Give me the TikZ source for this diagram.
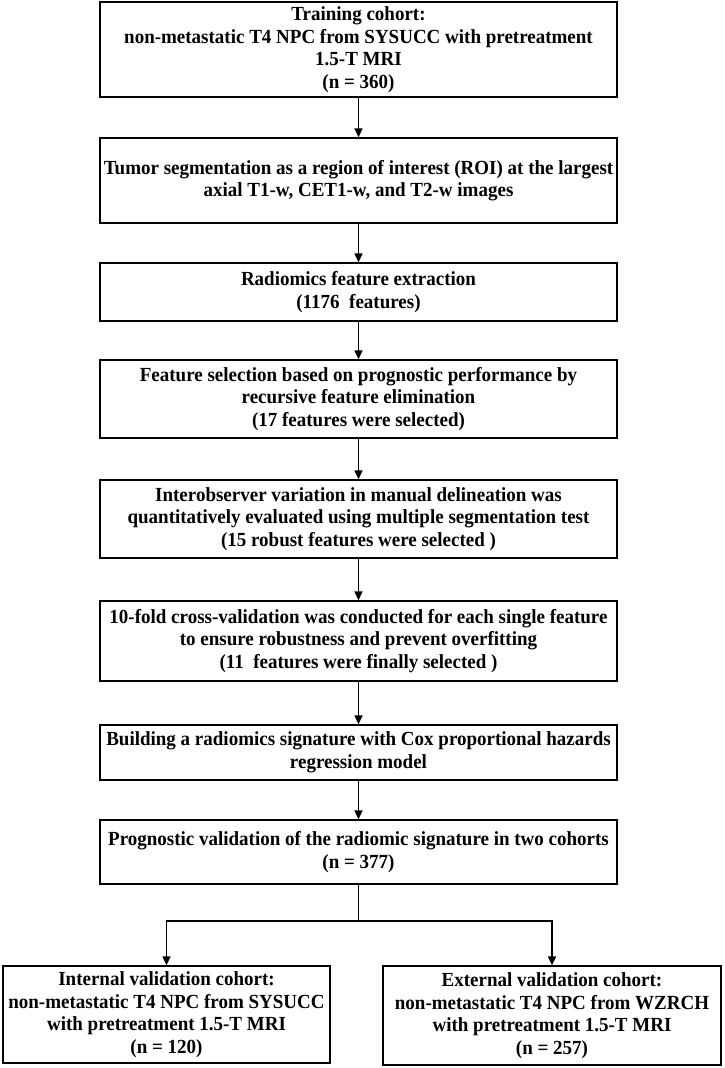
\documentclass[tikz,border=0pt]{standalone}
\usepackage{fontspec}
\setmainfont{Liberation Serif}[FakeStretch=0.95]
\usetikzlibrary{arrows.meta}
\begin{document}
\begin{tikzpicture}[x=1pt,y=-1pt,
  box/.style={draw, line width=1.3pt, align=center, inner sep=0pt,
    font=\fontsize{20}{22.5}\selectfont\bfseries},
  arr/.style={line width=1.3pt, -{Triangle[length=9pt,width=8pt]}},
  ln/.style={line width=1.3pt}]
\useasboundingbox (0,0) rectangle (725,1068);
\node[box, minimum width=517pt, minimum height=95pt] (b1) at (358.5,49.5)
  {Training cohort:\\non-metastatic T4 NPC from SYSUCC with pretreatment\\1.5-T MRI\\(n = 360)};
\node[box, minimum width=517pt, minimum height=85pt] (b2) at (358.5,180.5)
  {Tumor segmentation as a region of interest (ROI) at the largest\\axial T1-w, CET1-w, and T2-w images};
\node[box, minimum width=517pt, minimum height=58pt] (b3) at (358.5,292)
  {Radiomics feature extraction\\(1176\ \ features)};
\node[box, minimum width=517pt, minimum height=78pt] (b4) at (358.5,399)
  {Feature selection based on prognostic performance by\\recursive feature elimination\\(17 features were selected)};
\node[box, minimum width=517pt, minimum height=78pt] (b5) at (358.5,519)
  {Interobserver variation in manual delineation was\\quantitatively evaluated using multiple segmentation test\\(15 robust features were selected )};
\node[box, minimum width=517pt, minimum height=80pt] (b6) at (358.5,641)
  {10-fold cross-validation was conducted for each single feature\\to ensure robustness and prevent overfitting\\(11\ \ features were finally selected )};
\node[box, minimum width=517pt, minimum height=55pt] (b7) at (358.5,752.5)
  {Building a radiomics signature with Cox proportional hazards\\regression model};
\node[box, minimum width=517pt, minimum height=64pt] (b8) at (358.5,852)
  {Prognostic validation of the radiomic signature in two cohorts\\(n = 377)};
\node[box, minimum width=327pt, minimum height=97pt] (bl) at (166.5,1014.5)
  {Internal validation cohort:\\non-metastatic T4 NPC from SYSUCC\\with pretreatment 1.5-T MRI\\(n = 120)};
\node[box, minimum width=338pt, minimum height=99pt] (br) at (552,1015.5)
  {External validation cohort:\\non-metastatic T4 NPC from WZRCH\\with pretreatment 1.5-T MRI\\(n = 257)};
\draw[arr] (b1) -- (b2);
\draw[arr] (b2) -- (b3);
\draw[arr] (b3) -- (b4);
\draw[arr] (b4) -- (b5);
\draw[arr] (b5) -- (b6);
\draw[arr] (b6) -- (b7);
\draw[arr] (b7) -- (b8);
\coordinate (split) at (358.5,921);
\draw[ln] (b8.south) -- (split);
\draw[arr] (split) -| (bl.north);
\draw[arr] (split) -| (br.north);
\end{tikzpicture}
\end{document}
